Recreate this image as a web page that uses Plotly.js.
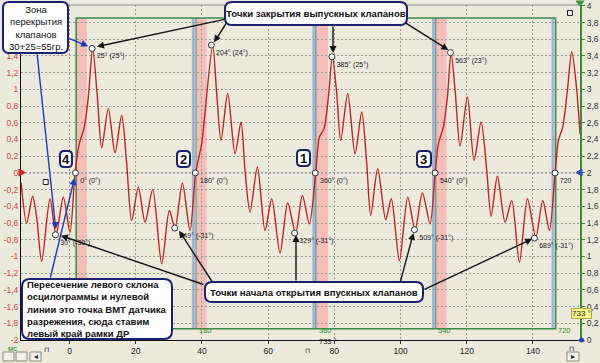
<!DOCTYPE html>
<html><head><meta charset="utf-8">
<script src="https://cdn.plot.ly/plotly-3.0.1.min.js"></script>
<style>html,body{margin:0;padding:0;background:#ebeadb;}#chart{width:600px;height:363px;}</style>
</head><body><div id="chart"></div>
<script>
// ---- waveform (time in ms, value in left-axis units) ----
const timeMs = [-14.6,-12.94,-11.13,-9.92,-8.41,-5.89,-4.08,-1.86,0.15,1.66,2.97,4.48,5.69,7.0,8.41,9.72,11.73,13.75,15.76,17.27,18.78,20.8,22.81,25.13,27.85,30.16,31.87,34.09,36.4,38.12,39.93,40.9,43.25,44.46,45.77,47.78,50.0,51.81,53.02,54.53,56.75,59.06,61.08,63.6,65.91,68.3,70.34,72.45,74.37,75.48,76.9,78.2,79.41,80.72,81.92,84.04,86.25,88.27,89.78,90.99,93.1,95.52,97.2,99.65,102.17,104.38,106.6,108.91,110.42,111.43,112.94,114.15,115.26,116.47,117.98,120.19,122.2,124.32,126.03,127.34,129.25,131.57,133.58,135.9,138.32,140.84,142.95,144.96,146.68,147.69,149.0,150.4,151.71,153.22,154.2];
const signalV = [-0.12,-0.60,-0.28,-0.53,-1.06,-0.31,-0.74,-0.29,-0.71,0.0,0.35,0.55,0.91,1.49,0.91,0.30,0.77,0.24,0.69,0.11,-0.57,-0.17,-0.59,-0.20,-1.09,-0.45,-0.66,-0.12,-0.69,0.0,0.35,0.71,1.53,0.95,0.39,0.95,0.23,0.61,0.03,-0.47,0.07,-0.69,-0.31,-0.96,-0.36,-0.72,-0.27,-0.61,0.0,0.43,0.53,0.91,1.39,0.95,0.39,0.95,0.23,0.73,0.11,-0.51,0.05,-0.56,-0.31,-1.05,-0.29,-0.68,-0.24,-0.61,0.0,0.35,0.55,0.91,1.44,0.99,0.32,0.91,0.15,0.61,0.03,-0.52,-0.04,-0.59,-0.33,-1.07,-0.31,-0.77,-0.33,-0.69,0.0,0.39,0.55,0.99,1.45,0.99,0.47];

// ---- crank-angle markers ----
const markerDeg = [25,0,-30,149,180,204,329,360,385,509,540,563,689,720];
const markerV = [1.49,0,-0.74,-0.66,0,1.53,-0.72,0,1.39,-0.68,0,1.44,-0.78,0];
const markerLabels = ['25° (25°)','0° (0°)','30° (-30°)','149° (-31°)','180° (0°)','204° (24°)','329° (-31°)','360° (0°)','385° (25°)','509° (-31°)','540° (0°)','563° (23°)','689° (-31°)','720'];

// ---- frame / zones (degrees) ----
const degRange = [-81.8, 757.5];
const frameDeg = [1, 721];
const frameLevels = [-1.866, 1.854];
const tdcDeg = [181, 361, 541];
const blueDeg = [177, 358, 537.5, 717];
const bandStart = [2, 182, 362, 541];
const bandEnd = [17, 197, 379, 557];
const frameLabelDeg = [182, 362, 542, 722];
const frameLabels = ['180','360','540','720'];

// ---- axes ----
const xRange = [-14.65, 154.2];
const xTicks = [0,20,40,60,80,100,120,140];
const yLeftTicks = [-2,-1.8,-1.6,-1.4,-1.2,-1,-0.8,-0.6,-0.4,-0.2,0,0.2,0.4,0.6,0.8,1,1.2,1.4,1.6,1.8,2];
const yLeftHidden = [1.6,1.8,2];   // covered by the callout in the reference
const yRightTicks = [0,0.2,0.4,0.6,0.8,1,1.2,1.4,1.6,1.8,2,2.2,2.4,2.6,2.8,3,3.2,3.4,3.6,3.8,4];
const fmt = v => String(v).replace('.', ',');

const FONT = 'Liberation Sans, Arial, sans-serif';
const L=21, T=5, W=559, H=335;
const X = px => (px - L)/W;
const Y = py => (T + H - py)/H;

function rrect(x0,y0,x1,y1,r){
  return `M ${X(x0+r)},${Y(y0)} L ${X(x1-r)},${Y(y0)} Q ${X(x1)},${Y(y0)} ${X(x1)},${Y(y0+r)} L ${X(x1)},${Y(y1-r)} Q ${X(x1)},${Y(y1)} ${X(x1-r)},${Y(y1)} L ${X(x0+r)},${Y(y1)} Q ${X(x0)},${Y(y1)} ${X(x0)},${Y(y1-r)} L ${X(x0)},${Y(y0+r)} Q ${X(x0)},${Y(y0)} ${X(x0+r)},${Y(y0)} Z`;
}

const shapes = [];
bandStart.forEach((s,i)=>shapes.push({type:'rect',xref:'x2',yref:'y',x0:s,x1:bandEnd[i],y0:frameLevels[0],y1:frameLevels[1],fillcolor:'rgba(250,160,165,0.6)',line:{width:0},layer:'below'}));
blueDeg.forEach(d=>shapes.push({type:'line',xref:'x2',yref:'y',x0:d,x1:d,y0:frameLevels[0],y1:frameLevels[1],line:{color:'#a2b6dc',width:3},layer:'below'}));
tdcDeg.forEach(d=>shapes.push({type:'line',xref:'x2',yref:'y',x0:d,x1:d,y0:frameLevels[0],y1:frameLevels[1],line:{color:'#4a8a55',width:1},layer:'below'}));
shapes.push({type:'rect',xref:'x2',yref:'y',x0:frameDeg[0],x1:frameDeg[1],y0:frameLevels[0],y1:frameLevels[1],line:{color:'#3b8a45',width:1.5},layer:'below'});
shapes.push({type:'line',xref:'x',yref:'y',x0:xRange[0],x1:xRange[1],y0:0,y1:0,line:{color:'#5a68b8',width:1,dash:'2px,2px'},layer:'below'});
shapes.push({type:'line',xref:'paper',yref:'paper',x0:0,x1:1,y0:1,y1:1,line:{color:'#8a8a8a',width:1}});

const boxes = [
  [3,2,68,53,6],
  [225,2,407,25,7],
  [205,282,423,302,7],
  [22,279,172,339,8],
  [60,151,72,167,4],[177,151,190,167,4],[297,150,310,166,4],[417,151,431,167,4]
];
boxes.forEach(b=>shapes.push({type:'path',xref:'paper',yref:'paper',path:rrect(...b),fillcolor:'#ffffff',line:{color:'#1c2070',width:2},layer:'above'}));
[[45.7,182],[570,13]].forEach(p=>shapes.push({type:'rect',xref:'paper',yref:'paper',x0:X(p[0]-2.5),x1:X(p[0]+2.5),y0:Y(p[1]+2.5),y1:Y(p[1]-2.5),line:{color:'#222',width:1},fillcolor:'#f4f4ee'}));
shapes.push({type:'path',xref:'paper',yref:'paper',path:`M ${X(19)},${Y(169)} L ${X(25)},${Y(172.5)} L ${X(19)},${Y(176)} Z`,fillcolor:'#d02020',line:{color:'#d02020',width:1}});
shapes.push({type:'path',xref:'paper',yref:'paper',path:`M ${X(582)},${Y(169)} L ${X(576)},${Y(172.5)} L ${X(582)},${Y(176)} Z`,fillcolor:'#3050c0',line:{color:'#3050c0',width:1}});
shapes.push({type:'path',xref:'paper',yref:'paper',path:`M ${X(576)},${Y(1)} L ${X(584)},${Y(1)} L ${X(580)},${Y(6)} Z`,fillcolor:'#3a9a3a',line:{color:'#3a9a3a',width:1}});
shapes.push({type:'circle',xref:'paper',yref:'paper',x0:X(579),x1:X(584),y0:Y(342.5),y1:Y(337.5),fillcolor:'#2040c0',line:{width:0}});
[[3,352,14,361],[16,352,27,361],[30,352,41,361],[567,352,579,361]].forEach(b=>shapes.push({type:'rect',xref:'paper',yref:'paper',x0:X(b[0]),x1:X(b[2]),y0:Y(b[3]),y1:Y(b[1]),fillcolor:'#f2f1e8',line:{color:'#8a8a80',width:1}}));

const annotations = [];
function txt(px,py,text,opt){annotations.push(Object.assign({xref:'paper',yref:'paper',x:X(px),y:Y(py),xanchor:'center',yanchor:'middle',text:text,showarrow:false,font:{family:FONT,size:10.5,color:'#111'}},opt||{}));}
txt(35.5,28,'Зона<br>перекрытия<br>клапанов<br>30+25=55гр.',{font:{family:FONT,size:9.5,color:'#111'}});
txt(316,13.5,'<b>Точки закрытия выпускных клапанов</b>',{font:{family:FONT,size:9.6,color:'#111'}});
txt(314,292,'<b>Точки начала открытия впускных клапанов</b>',{font:{family:FONT,size:9.6,color:'#111'}});
txt(25,309,'<b>Пересечение левого склона<br>осцилограммы и нулевой<br>линии это точка ВМТ датчика<br>разрежения, сюда ставим<br>левый край рамки ДР</b>',{xanchor:'left',align:'left',font:{family:FONT,size:9.5,color:'#111'}});
[['4',66,159],['2',183.5,159],['1',303.5,158],['3',424,159]].forEach(n=>txt(n[1],n[2],'<b>'+n[0]+'</b>',{font:{family:FONT,size:13,color:'#111'}}));
txt(12,348.5,'мс',{font:{family:FONT,size:7.5,color:'#2a8a2a'}});
[[46,349],[307,350],[571,348]].forEach(p=>txt(p[0],p[1],'⊓',{font:{family:FONT,size:7,color:'#222'}}));
txt(35.5,356.5,'◂',{font:{family:FONT,size:8,color:'#222'}});
txt(573,356.5,'▸',{font:{family:FONT,size:8,color:'#222'}});
txt(328,341,'733 °',{font:{family:FONT,size:7.5,color:'#222'}});
txt(581,313,'733 °',{bgcolor:'#fdf98a',bordercolor:'#b0a840',borderwidth:1,borderpad:0,font:{family:FONT,size:8,color:'#222'}});
frameLabelDeg.forEach((d,i)=>annotations.push({xref:'x2',yref:'y',x:d,y:frameLevels[0],yshift:-2,xanchor:'left',yanchor:'middle',text:frameLabels[i],showarrow:false,font:{family:FONT,size:7.5,color:'#3a8a3a'}}));

function arrow(hx,hy,tx,ty,color){annotations.push({xref:'paper',yref:'paper',x:X(hx),y:Y(hy),ax:tx-hx,ay:ty-hy,axref:'pixel',ayref:'pixel',text:'',showarrow:true,arrowhead:2,arrowsize:1,arrowwidth:1.4,arrowcolor:color,standoff:2});}
const K='#151515', B='#2038c8';
arrow(95,47,226,19,K); arrow(213,44,227,22,K); arrow(333,55,333,25,K); arrow(450,51,404,22,K);
arrow(59,235,205,285,K); arrow(178,229,213,283,K); arrow(296,233,296,282,K); arrow(414,231,400,283,K); arrow(534,238,423,290,K);
arrow(90,47,68,38,B); arrow(56,231,37,53,B); arrow(75,176,50,279,B);

const data = [
  {x:timeMs,y:signalV,type:'scatter',mode:'lines',line:{color:'#cc1f1f',width:1.4,shape:'spline',smoothing:0.8},xaxis:'x',yaxis:'y',hoverinfo:'skip'},
  {x:markerDeg,y:markerV,type:'scatter',mode:'markers+text',text:markerLabels,textposition:'bottom right',textfont:{family:FONT,size:7,color:'#222'},marker:{symbol:'circle',size:6,color:'#ffffff',line:{color:'#333',width:1}},xaxis:'x2',yaxis:'y',cliponaxis:false},
  {x:[xRange[0]],y:[0],xaxis:'x',yaxis:'y2',mode:'markers',marker:{opacity:0},hoverinfo:'skip'}
];

const layout = {
  width:600,height:363,margin:{l:L,r:600-L-W,t:T,b:363-T-H},
  paper_bgcolor:'#ebeadb',plot_bgcolor:'#ebeadb',showlegend:false,separators:', ',
  font:{family:FONT,size:8.5,color:'#222'},
  xaxis:{range:xRange,tickvals:xTicks,ticktext:xTicks.map(String),showgrid:true,gridcolor:'#9c9c94',griddash:'2px,2px',gridwidth:1,zeroline:false,showline:true,linecolor:'#111',linewidth:1,ticks:'outside',ticklen:3,tickcolor:'#333',tickfont:{family:FONT,size:8.5,color:'#222'}},
  xaxis2:{range:degRange,overlaying:'x',visible:false},
  yaxis:{range:[-2,2.01],tickvals:yLeftTicks,ticktext:yLeftTicks.map(v=>yLeftHidden.includes(v)?'':fmt(v)),showgrid:true,gridcolor:'#9c9c94',griddash:'2px,2px',zeroline:false,showline:true,linecolor:'#111',linewidth:1,ticks:'',tickfont:{family:FONT,size:8.5,color:'#cc4a4a'}},
  yaxis2:{range:[0,4.01],overlaying:'y',side:'right',tickvals:yRightTicks,ticktext:yRightTicks.map(fmt),showgrid:false,zeroline:false,showline:true,linecolor:'#3c8a3c',linewidth:2,ticks:'outside',ticklen:3,tickcolor:'#3c8a3c',tickfont:{family:FONT,size:8.5,color:'#333'}},
  shapes:shapes,annotations:annotations
};
Plotly.newPlot('chart',data,layout,{staticPlot:true});
</script></body></html>
